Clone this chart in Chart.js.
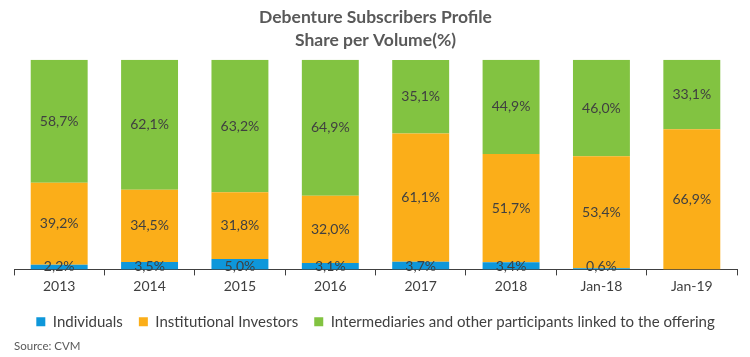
<!DOCTYPE html>
<html><head><meta charset="utf-8">
<script src="https://cdn.jsdelivr.net/npm/chart.js@4"></script>
<style>html,body{margin:0;padding:0;background:#fff}#wrap{width:750px;height:357px}</style>
</head><body><div id="wrap"><canvas id="c"></canvas></div>
<script>
const categories = ['2013','2014','2015','2016','2017','2018','Jan-18','Jan-19'];
const individuals = [2.2, 3.5, 5.0, 3.1, 3.7, 3.4, 0.6, 0];
const institutional = [39.2, 34.5, 31.8, 32.0, 61.1, 51.7, 53.4, 66.9];
const intermediaries = [58.7, 62.1, 63.2, 64.9, 35.1, 44.9, 46.0, 33.1];
const seriesNames = ['Individuals','Institutional Investors','Intermediaries and other participants linked to the offering'];
const FONT = 'Lato, "Liberation Sans", sans-serif';

const labelPlugin = {
  id: 'segLabels',
  afterDatasetsDraw(chart) {
    const ctx = chart.ctx;
    ctx.save();
    ctx.font = '14px ' + FONT;
    ctx.fillStyle = '#404040';
    ctx.textAlign = 'center';
    ctx.textBaseline = 'middle';
    chart.data.datasets.forEach((ds, di) => {
      const meta = chart.getDatasetMeta(di);
      meta.data.forEach((bar, i) => {
        const v = ds.data[i];
        if (!v) return;
        const y = (bar.y + bar.base) / 2;
        ctx.fillText(v.toFixed(1).replace('.', ',') + '%', bar.x, di === 0 ? bar.base - 3 : y);
      });
    });
    ctx.restore();
  }
};

new Chart(document.getElementById('c'), {
  type: 'bar',
  data: {
    labels: categories,
    datasets: [
      {label: seriesNames[0], data: individuals, backgroundColor: '#0E97DA'},
      {label: seriesNames[1], data: institutional, backgroundColor: '#FBAE19'},
      {label: seriesNames[2], data: intermediaries, backgroundColor: '#82C341'}
    ]
  },
  options: {
    responsive: true,
    maintainAspectRatio: false,
    animation: false,
    datasets: {bar: {categoryPercentage: 1, barPercentage: 0.63}},
    layout: {padding: {left: 14, right: 13, top: 0, bottom: 4}},
    scales: {
      x: {
        stacked: true,
        grid: {drawOnChartArea: false, tickLength: 6, color: '#404040', offset: true},
        border: {color: '#404040', width: 1},
        ticks: {color: '#404040', font: {family: FONT, size: 14}, padding: 3}
      },
      y: {stacked: true, display: false, min: 0, max: 100}
    },
    plugins: {
      title: {
        display: true,
        text: ['Debenture Subscribers Profile', 'Share per Volume(%)'],
        color: '#595959',
        font: {family: FONT, size: 17.5, weight: 'bold', lineHeight: 1.31},
        padding: {top: 6, bottom: 8}
      },
      subtitle: {
        display: true,
        position: 'bottom',
        align: 'start',
        text: 'Source: CVM',
        color: '#595959',
        font: {family: FONT, size: 11.5},
        padding: {top: 0, bottom: 0}
      },
      legend: {
        position: 'bottom',
        labels: {
          color: '#404040',
          font: {family: FONT, size: 15},
          boxWidth: 9, boxHeight: 9,
          padding: 16
        }
      },
      tooltip: {enabled: false}
    }
  },
  plugins: [labelPlugin]
});
</script></body></html>
